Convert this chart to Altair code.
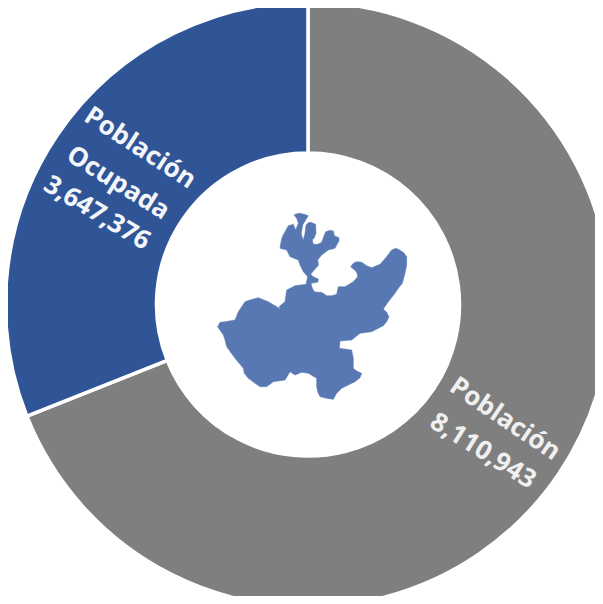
import altair as alt
import pandas as pd

categories = ["Población", "Población Ocupada"]
values = [8110943, 3647376]
slice_colors = ["#7f7f7f", "#2f5597"]

# Outline of the state (3x crop units)
map_x = [267,275,285,298,310,302,293,289,291,295,300,303,310,318,332,333,328,322,325,338,350,356,362,375,385,388,402,402,396,390,370,350,338,341,332,325,317,325,340,338,318,322,328,340,350,365,380,395,400,420,435,445,458,456,452,437,445,455,470,485,500,525,545,560,572,580,595,605,605,600,592,580,570,550,535,545,552,545,535,500,465,440,405,403,420,440,445,445,455,470,465,450,410,395,385,365,345,338,335,335,310,290,270,255,240,205,185,165,150,130,118,115,90,65,60,55,38,45,60,90,100,120,135,160,190,220,235,237,222,240,245,270,303,308,295,285,280,255,245,225,228,232,250,265,272,280,275]
map_y = [30,26,25,28,32,45,60,85,95,105,85,60,53,52,58,85,98,105,118,118,112,95,80,76,78,92,98,108,118,130,135,150,165,180,190,198,208,215,222,232,235,250,260,262,262,272,272,268,245,245,236,230,215,205,198,185,175,170,172,182,188,178,155,135,130,133,142,155,180,205,235,250,265,290,312,322,335,350,362,380,385,405,408,430,432,435,460,490,498,505,518,530,550,565,583,580,575,560,545,520,505,502,510,500,525,530,545,545,535,520,505,490,460,425,405,390,365,352,350,345,320,290,285,278,290,308,320,335,305,290,255,242,238,215,200,180,165,155,135,130,110,95,62,58,75,55,40]

ring = [[x, y] for x, y in zip(map_x, map_y)]
ring.append(ring[0])
state = {"type": "Feature", "properties": {}, "geometry": {"type": "Polygon", "coordinates": [ring]}}

df = pd.DataFrame({"categoria": categories, "valor": values, "orden": [0, 1]})

CX, CY = 300, 296.5

donut = alt.Chart(df).mark_arc(innerRadius=151.5, outerRadius=302.5, stroke="white", strokeWidth=3.5).encode(
    theta=alt.Theta("valor:Q", stack=True),
    order=alt.Order("orden:O"),
    color=alt.Color("categoria:N", scale=alt.Scale(domain=categories, range=slice_colors), legend=None),
    x=alt.value(CX),
    y=alt.value(CY),
)

shape = alt.Chart(alt.Data(values=[state])).mark_geoshape(fill="#5778b3", stroke="#5778b3", strokeWidth=0.5).project(
    type="identity", scale=1/3, translate=[197, 197]
)

def label(text, px, py, angle, color):
    return alt.Chart(alt.Data(values=[{"t": text}])).mark_text(
        font="Open Sans", fontWeight="bold", fontSize=26, angle=angle, align="center", baseline="middle", color=color
    ).encode(text="t:N", x=alt.value(px - 8), y=alt.value(py - 8))

labels = [
    label("Población", 140, 148, 33, "#f4f6fa"),
    label("Ocupada", 118, 183, 32, "#f4f6fa"),
    label("3,647,376", 97, 213, 31, "#f4f6fa"),
    label("Población", 505, 419, 34, "#f0f0f0"),
    label("8,110,943", 483, 451, 32, "#f0f0f0"),
]

chart = alt.layer(donut, shape, *labels).properties(
    width=587, height=588, padding=0, autosize=alt.AutoSizeParams(type="none")
).configure_view(stroke=None)

chart.save("out.html", embed_options={"renderer": "svg", "actions": False})
